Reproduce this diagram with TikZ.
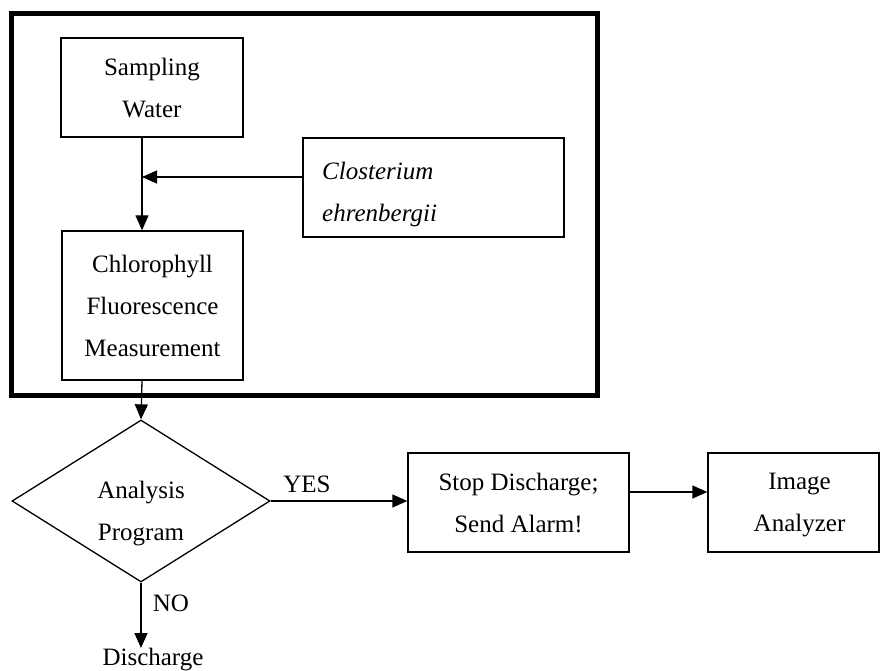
\documentclass[tikz,border=0pt]{standalone}
\usepackage{fontspec}
\setmainfont{Liberation Serif}
\usetikzlibrary{arrows.meta,shapes.geometric}
\begin{document}
\begin{tikzpicture}[x=1pt,y=-1pt,
  every node/.style={font=\fontsize{25}{42}\selectfont},
  box/.style={draw,line width=1.3pt,inner sep=0pt,align=center,text depth=0pt},
  conn/.style={line width=1.3pt,-{Triangle[length=15pt,width=13pt]}},
  plain/.style={line width=1.3pt}]
\useasboundingbox (0,0) rectangle (881,671);
% outer frame
\draw[line width=5pt] (11,14) rectangle (597,395);
% nodes
\node[box,minimum width=182pt,minimum height=99pt] (samp) at (152,87.5) {Sampling\\Water};
\node[box,minimum width=261pt,minimum height=99pt] (clo) at (433.5,187.5) {};
\node[anchor=west,inner sep=0pt,align=left,text depth=0pt,font=\fontsize{25}{42}\selectfont\itshape] (clotext) at (322,192) {Closterium\\ehrenbergii};
\node[box,minimum width=181pt,minimum height=149pt] (chl) at (152.5,305.5) {Chlorophyll\\Fluorescence\\Measurement};
\node[draw,diamond,line width=1.3pt,minimum width=258pt,minimum height=162pt,inner sep=0pt] (dec) at (141,501) {};
\node (dectext) at (141,511) [align=center,inner sep=0pt,text depth=0pt] {Analysis\\Program};
\node[box,minimum width=221pt,minimum height=99pt] (stop) at (518.5,502.5) {Stop Discharge;\\Send Alarm!};
\node[box,minimum width=171pt,minimum height=99pt] (img) at (793.5,502.5) {\hspace*{12pt}Image\\\hspace*{12pt}Analyzer};
\node[anchor=north,inner sep=0pt] (dis) at (153,648) {Discharge};
\node (yes) at (307,484) {YES};
\node (no) at (171,603) {NO};
% connectors
\coordinate (j) at (142,177);
\draw[conn] (clo.west |- j) -- (j);
\draw[conn] (samp.south -| j) -- (chl.north -| j);
\draw[conn] (chl.south -| j) -- (dec.north);
\draw[conn] (dec.east) -- (stop.west |- dec.east);
\draw[conn] ([yshift=10.5pt]stop.east) -- ([yshift=10.5pt]img.west);
\draw[conn] (dec.south) -- (dis.north -| dec.south);
\end{tikzpicture}
\end{document}
